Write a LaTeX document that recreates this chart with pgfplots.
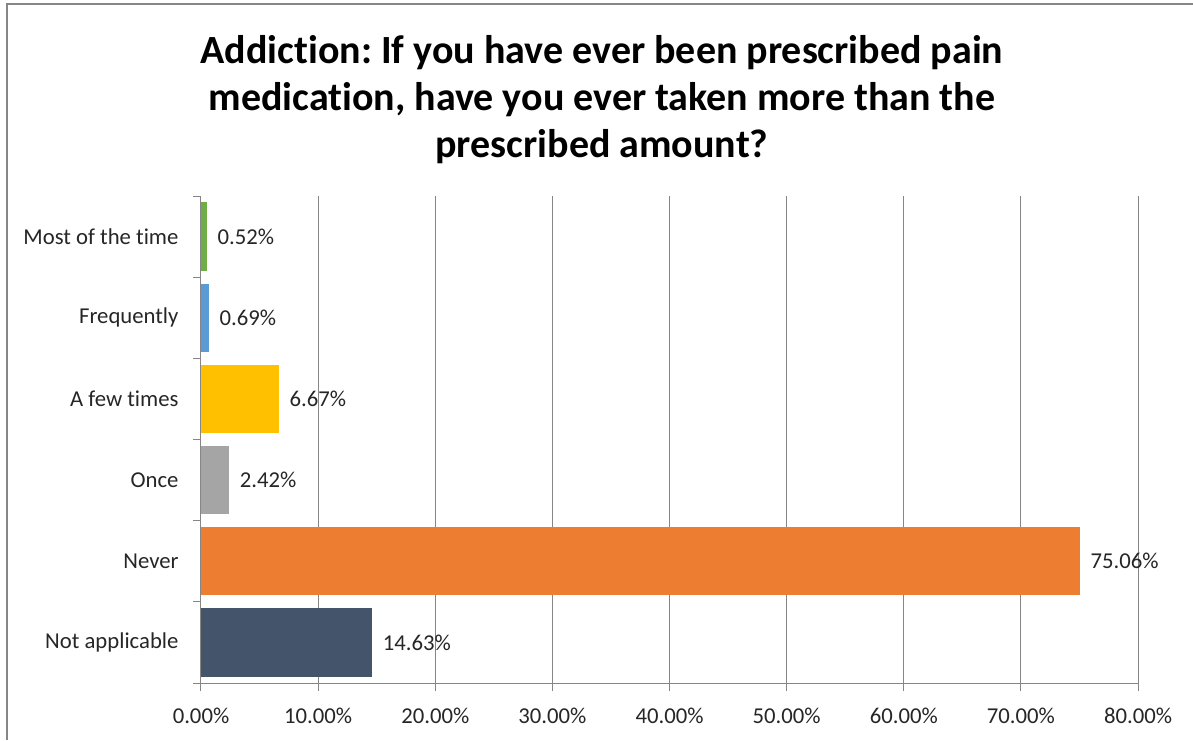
\documentclass[border=0pt]{standalone}
\usepackage{pgfplots}
\pgfplotsset{compat=1.18}
\usepackage{fontspec}
\setmainfont{Carlito}[RawFeature={-liga;-dlig;-clig;-calt}]
\frenchspacing
\definecolor{cgreen}{HTML}{70AD47}
\definecolor{cblue}{HTML}{5B9BD5}
\definecolor{cgold}{HTML}{FFC000}
\definecolor{cgray}{HTML}{A5A5A5}
\definecolor{corange}{HTML}{ED7D31}
\definecolor{cslate}{HTML}{44546A}
\definecolor{gridgray}{HTML}{868686}
\definecolor{txt}{HTML}{262626}
\begin{document}
\begin{tikzpicture}
\useasboundingbox (-201pt,-57pt) rectangle (992pt,683pt);
\draw[color=gridgray, line width=1.5pt] (-194pt,-57pt) -- (-194pt,679pt) -- (992pt,679pt);
\node[font=\bfseries\fontsize{40}{47}\selectfont, align=center, text=black] at (401pt,583pt)
  {Addiction: If you have ever been prescribed pain\\medication, have you ever taken more than the\\prescribed amount?};
\begin{axis}[
  scale only axis, width=937pt, height=487pt,
  at={(0pt,0pt)}, anchor=south west,
  xbar,
  xmin=0, xmax=80, ymin=-0.5, ymax=5.5,
  axis x line*=bottom, axis y line*=left,
  axis line style={draw=gridgray, line width=1pt, -},
  xtick={0,10,...,80},
  xticklabel={\pgfmathprintnumber[fixed,fixed zerofill,precision=2]{\tick}\%},
  ytick={0,1,2,3,4,5},
  yticklabels={Not applicable,Never,Once,A few times,Frequently,Most of the time},
  minor ytick={-0.5,0.5,1.5,2.5,3.5,4.5,5.5},
  major y tick style={draw=none},
  tick style={draw=gridgray, line width=1pt},
  minor tick length=8pt, major tick length=8pt,
  tick align=outside,
  xmajorgrids=true,
  grid style={draw=gridgray, line width=1pt},
  tick label style={font=\fontsize{22.7}{27}\selectfont, text=txt},
  yticklabel style={xshift=-11pt},
  xticklabel style={yshift=-13pt},
  /pgf/number format/assume math mode=true,
  point meta=x,
  nodes near coords={\pgfmathprintnumber[fixed,fixed zerofill,precision=2]{\pgfplotspointmeta}\%},
  nodes near coords style={font=\fontsize{22.7}{27}\selectfont, text=txt, xshift=7pt},
  every axis plot/.append style={bar width=0.84, bar shift=0pt, draw=none},
]
\addplot[fill=cgreen] coordinates {(0.52,5)};
\addplot[fill=cblue] coordinates {(0.69,4)};
\addplot[fill=cgold] coordinates {(6.67,3)};
\addplot[fill=cgray] coordinates {(2.42,2)};
\addplot[fill=corange] coordinates {(75.06,1)};
\addplot[fill=cslate] coordinates {(14.63,0)};
\end{axis}
\end{tikzpicture}
\end{document}
